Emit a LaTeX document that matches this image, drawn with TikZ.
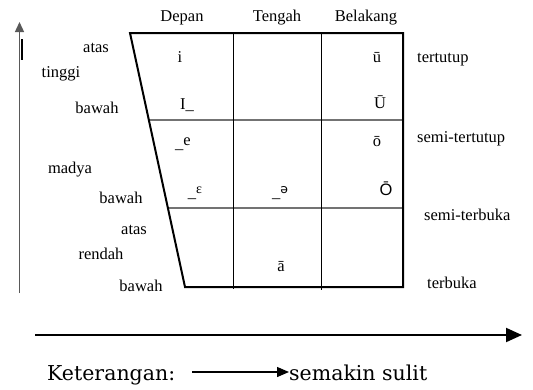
\documentclass[tikz,border=0pt]{standalone}
\usepackage{fontspec}
\newfontfamily\tnr{Liberation Serif}
\newfontfamily\arl{Liberation Sans}
\newfontfamily\djv{DejaVu Sans}
\newfontfamily\djs{DejaVu Serif}
\usetikzlibrary{arrows.meta}
\begin{document}
\begin{tikzpicture}[x=1pt,y=-1pt,
  lbl/.style={font=\tnr\fontsize{16.5}{18}\selectfont, inner sep=0pt, anchor=base},
  side/.style={lbl, anchor=base west},
  frame/.style={line width=2pt, line join=miter},
  divider/.style={line width=1pt},
  rowline/.style={line width=1.3pt, black!55},
  legend/.style={font=\djs\fontsize{20.5}{25}\selectfont, inner sep=0pt, anchor=base}]
\useasboundingbox (0,0) rectangle (533,389);

% corners of the vowel trapezoid
\coordinate (tl) at (130,33);
\coordinate (tr) at (403,33);
\coordinate (br) at (403,287);
\coordinate (bl) at (185,287);

% row and column dividers
\coordinate (r1a) at (148.8,120);
\coordinate (r1b) at (403,120);
\coordinate (r2a) at (167.9,208);
\coordinate (r2b) at (403,208);
\coordinate (c1a) at (233,33);
\coordinate (c1b) at (233,289);
\coordinate (c2a) at (321,33);
\coordinate (c2b) at (321,290);
\draw[rowline] (r1a) -- (r1b);
\draw[rowline] (r2a) -- (r2b);
\draw[divider] (c1a) -- (c1b);
\draw[divider] (c2a) -- (c2b);
\draw[frame] (tl) -- (tr) -- (br) -- (bl) -- cycle;

% column headings
\node[lbl] (hd1) at (182,21) {Depan};
\node[lbl] (hd2) at (277,21) {Tengah};
\node[lbl] (hd3) at (366,21) {Belakang};

% height labels on the left
\node[lbl] (l1) at (96,52) {atas};
\node[lbl] (l2) at (61,77) {tinggi};
\node[lbl] (l3) at (97,113) {bawah};
\node[lbl] (l4) at (70,173) {madya};
\node[lbl] (l5) at (121,203) {bawah};
\node[lbl] (l6) at (134,234) {atas};
\node[lbl] (l7) at (101,259) {rendah};
\node[lbl] (l8) at (141,291) {bawah};

% openness labels on the right
\node[side] (s1) at (417,62) {tertutup};
\node[side] (s2) at (417,142) {semi-tertutup};
\node[side] (s3) at (424,220) {semi-terbuka};
\node[side] (s4) at (427,288) {terbuka};

% vowels
\node[lbl] (v1) at (180,62) {i};
\node[lbl] (v2) at (187,109) {I\_};
\node[lbl] (v3) at (377,62) {ū};
\node[lbl] (v4) at (380,108) {Ū};
\node[lbl] (v5) at (183,148) {\_\raisebox{3pt}{e}};
\node[lbl] (v6) at (377,146) {ō};
\node[lbl] (v7) at (195,197) {\_\raisebox{3.5pt}{\fontsize{14}{14}\selectfont ε}};
\node[lbl] (v8) at (280,197) {\_\raisebox{3.5pt}{\djv\fontsize{12.5}{12.5}\selectfont ə}};
\node[lbl] (v9) at (386,195) {\arl Ō};
\node[lbl] (v10) at (281,271) {ā};

% vertical axis
\coordinate (va) at (19.5,293);
\coordinate (vb) at (19.5,22);
\draw[line width=1.3pt, black!65, -{Stealth[length=10pt,width=9pt,inset=0pt]}] (va) -- (vb);
\coordinate (ma) at (21.8,39);
\coordinate (mb) at (21.8,60);
\draw[line width=1.6pt] (ma) -- (mb);

% horizontal axis
\coordinate (ha) at (35,335);
\coordinate (hb) at (522,335);
\draw[line width=2pt, -{Triangle[length=16pt,width=14pt]}] (ha) -- (hb);

% legend
\node[legend, anchor=base west] (k1) at (47,380) {Keterangan:};
\node[legend, anchor=base west] (k2) at (289,380) {semakin sulit};
\coordinate (ka) at (192,372);
\draw[line width=1.3pt, -{Triangle[length=12pt,width=10pt]}] (ka) -- (k2.west |- ka);
\end{tikzpicture}
\end{document}
